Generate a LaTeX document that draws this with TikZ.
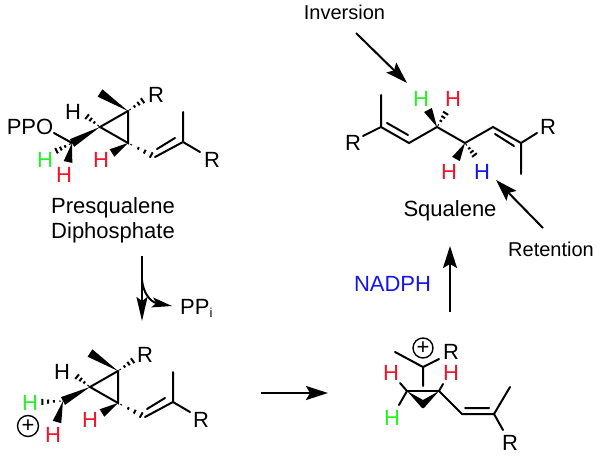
\documentclass[tikz,border=0pt]{standalone}
\usepackage{fontspec}
\setmainfont{Liberation Sans}
\usetikzlibrary{calc,arrows.meta}
\definecolor{hgreen}{RGB}{40,240,40}
\definecolor{hred}{RGB}{240,20,40}
\definecolor{hblue}{RGB}{20,20,240}
\newcommand{\hashb}[2]{%
  \foreach \t/\w in {0.12/0.5,0.38/1.3,0.62/2.1,0.86/3.0}{
    \draw[line width=2pt] let \p1=($(#1)!\t!(#2)$) in
      ($(\p1)!\w pt!90:(#2)$) -- ($(\p1)!\w pt!-90:(#2)$);
  }}
\newcommand{\wedgeb}[3][4.4pt]{%
  \fill (#2) -- ($(#3)!#1!90:(#2)$) -- ($(#3)!#1!-90:(#2)$) -- cycle;}
\tikzset{
  bond/.style={line width=2pt,line cap=round},
  lab/.style={font=\fontsize{22}{22}\selectfont,inner sep=0pt,text=black},
  txt/.style={font=\fontsize{22}{22}\selectfont,inner sep=0pt,anchor=base},
  small/.style={font=\fontsize{20}{20}\selectfont,inner sep=0pt,anchor=base},
  hg/.style={lab,text=hgreen},
  hr/.style={lab,text=hred},
  hb/.style={lab,text=hblue},
  plus/.style={circle,draw,line width=1.4pt,minimum size=21pt,inner sep=0pt,font=\fontsize{22}{22}\selectfont},
  rarrow/.style={line width=2pt,-{Stealth[length=22pt,width=14pt,inset=4pt]}}
}
\begin{document}
\begin{tikzpicture}[x=1pt,y=-1pt]
\useasboundingbox (0,0) rectangle (601,457);
% --- Presqualene diphosphate
\coordinate (am) at (100,93);
\coordinate (at) at (128,111);
\coordinate (al) at (100,127);
\coordinate (ab) at (128,143);
\coordinate (ac) at (72,143);
\coordinate (ah) at (85,115);
\coordinate (ar) at (145,99);
\coordinate (ao) at (54,133);
\coordinate (ag) at (54,152);
\coordinate (ad) at (68,162);
\coordinate (aw) at (112,153);
\coordinate (av) at (155,157);
\coordinate (ae) at (183,142);
\coordinate (av2) at (157,149);
\coordinate (ae2) at (175,138);
\coordinate (ame) at (183,112);
\coordinate (arr) at (200,152);
\node[lab] at (30,127) {PPO};
\node[lab] at (73,112) {H};
\node[lab] at (156,95) {R};
\node[lab] at (212,160) {R};
\node[hg] at (45,160) {H};
\node[hr] at (64,175) {H};
\node[hr] at (101,160) {H};
\draw[bond] (at) -- (al) -- (ab) -- (at) (ao) -- (ac);
\draw[bond] (av) -- (ae) (av2) -- (ae2) (ae) -- (ame) (ae) -- (arr);
\wedgeb{at}{am}\wedgeb{al}{ac}\wedgeb{ac}{ad}\wedgeb{ab}{aw}
\hashb{al}{ah}\hashb{at}{ar}\hashb{ab}{av}\hashb{ac}{ag}
\node[txt] at (113,213) {Presqualene};
\node[txt] at (113,238) {Diphosphate};
% --- cation
\coordinate (bm) at (90,353);
\coordinate (bt) at (118,371);
\coordinate (bl) at (90,387);
\coordinate (bb) at (118,403);
\coordinate (bc) at (63,401);
\coordinate (bh) at (75,375);
\coordinate (br) at (135,359);
\coordinate (bg) at (39,402);
\coordinate (bd) at (57,422);
\coordinate (bw) at (102,413);
\coordinate (bv) at (145,417);
\coordinate (be) at (173,402);
\coordinate (bv2) at (147,409);
\coordinate (be2) at (165,398);
\coordinate (bme) at (173,372);
\coordinate (brr) at (190,412);
\node[lab] at (62,372) {H};
\node[lab] at (145,355) {R};
\node[lab] at (201,420) {R};
\node[hg] at (30,403) {H};
\node[hr] at (53,435) {H};
\node[hr] at (90,420) {H};
\node[plus] at (28,426) {+};
\draw[bond] (bt) -- (bl) -- (bb) -- (bt);
\draw[bond] (bv) -- (be) (bv2) -- (be2) (be) -- (bme) (be) -- (brr);
\wedgeb{bt}{bm}\wedgeb{bl}{bc}\wedgeb{bc}{bd}\wedgeb{bb}{bw}
\hashb{bl}{bh}\hashb{bt}{br}\hashb{bb}{bv}\hashb{bc}{bg}
% --- cyclopropylcarbinyl
\coordinate (cm) at (395,352);
\coordinate (cc) at (423,367);
\coordinate (crb) at (439,359);
\coordinate (cd) at (423,386);
\coordinate (cl) at (407,391);
\coordinate (cr) at (439,391);
\coordinate (cb) at (423,407);
\coordinate (chr) at (400,383);
\coordinate (chg) at (399,405);
\coordinate (chq) at (443,384);
\coordinate (cv) at (462,414);
\coordinate (ce) at (494,414);
\coordinate (cv2) at (465,408);
\coordinate (ce2) at (489,408);
\coordinate (cme) at (510,387);
\coordinate (crr) at (503,430);
\node[plus,minimum size=20pt] at (423,348) {+};
\node[lab] at (451,352) {R};
\node[hr] at (391,373) {H};
\node[hr] at (451,373) {H};
\node[hg] at (392,418) {H};
\node[lab] at (510,443) {R};
\draw[bond] (cm) -- (cc) -- (crb) (cc) -- (cd);
\draw[bond] (cl) -- (cr);
\fill (cl) -- ($(cb)+(-1,1)$) -- ($(cb)+(1,1)$) -- (cr) -- ($(cb)+(0,-7)$) -- cycle;
\draw[bond] (cl) -- (chr) (cl) -- (chg) (cr) -- (chq);
\draw[bond] (cr) -- (cv) -- (ce) -- (cme) (ce) -- (crr) (cv2) -- (ce2);
% --- squalene
\coordinate (dm) at (381,95);
\coordinate (d1) at (381,127);
\coordinate (dr) at (363,136);
\coordinate (d2) at (409,143);
\coordinate (d1i) at (387,123);
\coordinate (d2i) at (408,135);
\coordinate (d3) at (437,127);
\coordinate (dwg) at (428,110);
\coordinate (dhr) at (447,111);
\coordinate (d4) at (465,143);
\coordinate (dwr) at (456,159);
\coordinate (dhb) at (476,157);
\coordinate (d5) at (493,127);
\coordinate (d6) at (521,143);
\coordinate (d5i) at (495,134);
\coordinate (d6i) at (514,146);
\coordinate (drr) at (537,133);
\coordinate (dme) at (521,174);
\node[lab] at (353,143) {R};
\node[lab] at (548,127) {R};
\node[hg] at (421,99) {H};
\node[hr] at (453,99) {H};
\node[hr] at (449,172) {H};
\node[hb] at (482,172) {H};
\draw[bond] (dm) -- (d1) -- (dr) (d1) -- (d2) -- (d3) -- (d4) -- (d5) -- (d6) -- (drr) (d6) -- (dme) (d1i) -- (d2i) (d5i) -- (d6i);
\wedgeb{d3}{dwg}\wedgeb{d4}{dwr}
\hashb{d3}{dhr}\hashb{d4}{dhb}
\node[txt] at (450,216) {Squalene};
\node[small] at (344.5,20) {Inversion};
\node[small] at (551,256) {Retention};
\node[txt,text=hblue] at (392.5,291) {NADPH};
% --- arrows
\coordinate (i1) at (356,33); \coordinate (i2) at (407,83);
\coordinate (r1) at (543,228); \coordinate (r2) at (496,180);
\coordinate (n1) at (450,312); \coordinate (n2) at (450,246);
\coordinate (m1) at (261,393); \coordinate (m2) at (328,393);
\coordinate (p1) at (142,256); \coordinate (p2) at (142,321);
\coordinate (p3) at (142,280); \coordinate (p4) at (172,306);
\draw[rarrow] (i1) -- (i2);
\draw[rarrow] (r1) -- (r2);
\draw[rarrow] (n1) -- (n2);
\draw[rarrow] (m1) -- (m2);
\draw[line width=2pt,-{Stealth[length=24pt,width=11pt,inset=4pt]}] (p1) -- (p2);
\draw[line width=2pt,-{Stealth[length=20pt,width=10pt,inset=4pt]}] (p3) .. controls (143,292) and (150,302) .. (p4);
\node[lab,anchor=west] at (180,308) {PP\raisebox{-3pt}{\fontsize{13}{13}\selectfont i}};
\end{tikzpicture}
\end{document}
